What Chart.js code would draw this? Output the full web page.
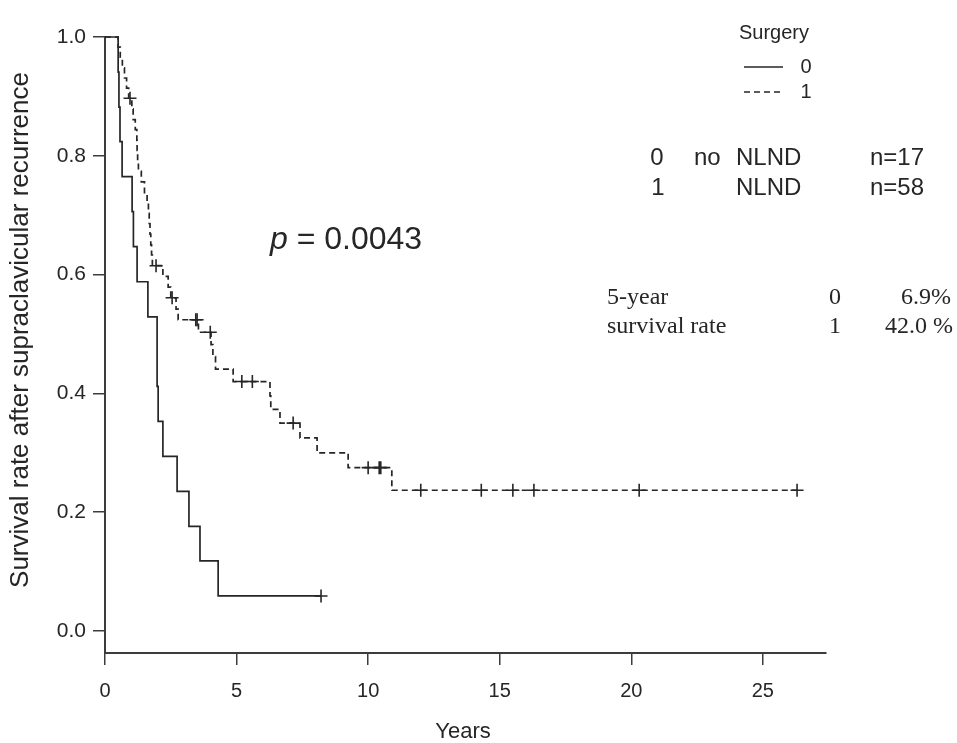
<!DOCTYPE html>
<html>
<head>
<meta charset="utf-8">
<script src="https://cdn.jsdelivr.net/npm/chart.js@4.4.0/dist/chart.umd.min.js"></script>
<style>
  html, body { margin: 0; padding: 0; background: #fff; }
  #wrap { width: 957px; height: 743px; }
</style>
</head>
<body>
<div id="wrap"><canvas id="kmChart" width="957" height="743"></canvas></div>
<script>
// Surgery = 0 (no NLND, n=17) - solid line
const times0 = [0, 0.50, 0.53, 0.57, 0.65, 1.03, 1.08, 1.22, 1.63, 1.98, 1.98, 2.02, 2.20, 2.74, 3.19, 3.61, 4.30, 8.21];
const surv0  = [1.0, 0.941, 0.882, 0.824, 0.765, 0.706, 0.647, 0.588, 0.529, 0.471, 0.412, 0.353, 0.294, 0.235, 0.176, 0.118, 0.059, 0.059];
const censorT0 = [8.21];
const censorS0 = [0.059];

// Surgery = 1 (NLND, n=58) - dashed line
const times1 = [0, 0.50, 0.58, 0.66, 0.74, 0.82, 0.90, 1.02, 1.07, 1.15, 1.21, 1.22, 1.24, 1.27, 1.38, 1.50, 1.60,
                1.65, 1.68, 1.71, 1.74, 1.77, 1.80, 2.20, 2.40, 2.50, 2.70, 2.78, 3.55, 4.03, 4.10, 4.20, 4.87,
                6.27, 6.30, 6.65, 7.41, 8.06, 9.24, 10.90, 26.3];
const surv1  = [1.0, 0.983, 0.966, 0.948, 0.931, 0.914, 0.897, 0.879, 0.861, 0.844, 0.826, 0.809, 0.791, 0.774, 0.756, 0.738, 0.721,
                0.703, 0.686, 0.668, 0.650, 0.633, 0.615, 0.597, 0.579, 0.561, 0.542, 0.524, 0.503, 0.482, 0.462, 0.441, 0.420,
                0.396, 0.373, 0.350, 0.325, 0.300, 0.275, 0.237, 0.237];
const censorT1 = [0.95, 1.94, 2.55, 3.45, 3.50, 4.00, 5.20, 5.60, 7.15, 10.00, 10.42, 10.48, 12.0, 14.3, 15.5, 16.3, 20.3, 26.3];
const censorS1 = [0.897, 0.615, 0.561, 0.524, 0.524, 0.503, 0.420, 0.420, 0.350, 0.275, 0.275, 0.275, 0.237, 0.237, 0.237, 0.237, 0.237, 0.237];

// axes
const xTicks = [0, 5, 10, 15, 20, 25];
const yTicks = [0, 0.2, 0.4, 0.6, 0.8, 1.0];

const ink = '#262626';
const axisColor = '#3c3c3c';
const sans = '"Liberation Sans", Arial, sans-serif';
const serif = '"Liberation Serif", "Times New Roman", serif';

const pts = (xs, ys) => xs.map((x, i) => ({ x: x, y: ys[i] }));

// text annotations, legend and axis titles
const notes = {
  id: 'notes',
  afterDraw(chart) {
    const c = chart.ctx;
    c.save();
    c.fillStyle = ink;
    c.strokeStyle = ink;
    c.textBaseline = 'middle';

    // legend
    c.font = '20px ' + sans;
    c.textAlign = 'center';
    c.fillText('Surgery', 774, 33);
    c.fillText('0', 806, 67);
    c.fillText('1', 806, 92);
    c.lineWidth = 1.6;
    c.beginPath(); c.moveTo(744, 67); c.lineTo(783, 67); c.stroke();
    c.setLineDash([6, 4]);
    c.beginPath(); c.moveTo(744, 92); c.lineTo(783, 92); c.stroke();
    c.setLineDash([]);

    // groups
    c.font = '24px ' + sans;
    c.textAlign = 'center';
    c.fillText('0', 657, 158);
    c.fillText('1', 658, 188);
    c.textAlign = 'left';
    c.fillText('no', 694, 158);
    c.fillText('NLND', 736, 158);
    c.fillText('NLND', 736, 188);
    c.fillText('n=17', 870, 158);
    c.fillText('n=58', 870, 188);

    // p value
    c.textBaseline = 'alphabetic';
    c.font = 'italic 32px ' + sans;
    c.fillText('p', 270, 249);
    const pw = c.measureText('p').width;
    c.font = '32px ' + sans;
    c.fillText(' = 0.0043', 270 + pw, 249);

    // 5-year survival
    c.textBaseline = 'middle';
    c.font = '24px ' + serif;
    c.textAlign = 'left';
    c.fillText('5-year', 607, 298);
    c.fillText('survival rate', 607, 327);
    c.textAlign = 'center';
    c.fillText('0', 835, 298);
    c.fillText('1', 835, 327);
    c.textAlign = 'right';
    c.fillText('6.9%', 951, 298);
    c.fillText('42.0 %', 953, 327);

    // axis titles
    c.font = '22px ' + sans;
    c.textAlign = 'center';
    c.fillText('Years', 463, 732);
    c.font = '26px ' + sans;
    c.translate(21, 330);
    c.rotate(-Math.PI / 2);
    c.fillText('Survival rate after supraclavicular recurrence', 0, 0);
    c.restore();
  }
};

new Chart(document.getElementById('kmChart'), {
  type: 'line',
  data: {
    datasets: [
      {
        label: '0',
        data: pts(times0, surv0),
        stepped: true,
        borderColor: ink,
        borderWidth: 1.7,
        pointRadius: 0,
        fill: false,
        clip: false
      },
      {
        label: '1',
        data: pts(times1, surv1),
        stepped: true,
        borderColor: ink,
        borderWidth: 1.7,
        borderDash: [6, 4],
        pointRadius: 0,
        fill: false,
        clip: false
      },
      {
        type: 'scatter',
        label: 'censored 0',
        data: pts(censorT0, censorS0),
        pointStyle: 'cross',
        pointRadius: 6.5,
        pointBorderWidth: 1.6,
        borderColor: ink,
        showLine: false,
        clip: false
      },
      {
        type: 'scatter',
        label: 'censored 1',
        data: pts(censorT1, censorS1),
        pointStyle: 'cross',
        pointRadius: 6.5,
        pointBorderWidth: 1.6,
        borderColor: ink,
        showLine: false,
        clip: false
      }
    ]
  },
  options: {
    responsive: false,
    animation: false,
    layout: { padding: { top: 37, right: 131, left: 0, bottom: 0 } },
    plugins: {
      legend: { display: false },
      tooltip: { enabled: false }
    },
    scales: {
      x: {
        type: 'linear',
        min: 0,
        max: 27.4,
        afterBuildTicks: s => { s.ticks = xTicks.map(v => ({ value: v })); },
        afterFit: s => { s.height = 90; },
        border: { color: axisColor, width: 2 },
        grid: { drawOnChartArea: false, tickLength: 12, color: axisColor, lineWidth: 1.5 },
        ticks: { padding: 14, color: ink, font: { family: sans, size: 20 }, maxRotation: 0 }
      },
      y: {
        type: 'linear',
        min: -0.037,
        max: 1.0,
        afterBuildTicks: s => { s.ticks = yTicks.map(v => ({ value: v })); },
        afterFit: s => { s.width = 105; },
        border: { color: axisColor, width: 2 },
        grid: { drawOnChartArea: false, tickLength: 12, color: axisColor, lineWidth: 1.5 },
        ticks: { padding: 7, color: ink, font: { family: sans, size: 21 }, callback: v => v.toFixed(1) }
      }
    }
  },
  plugins: [notes]
});
</script>
</body>
</html>
